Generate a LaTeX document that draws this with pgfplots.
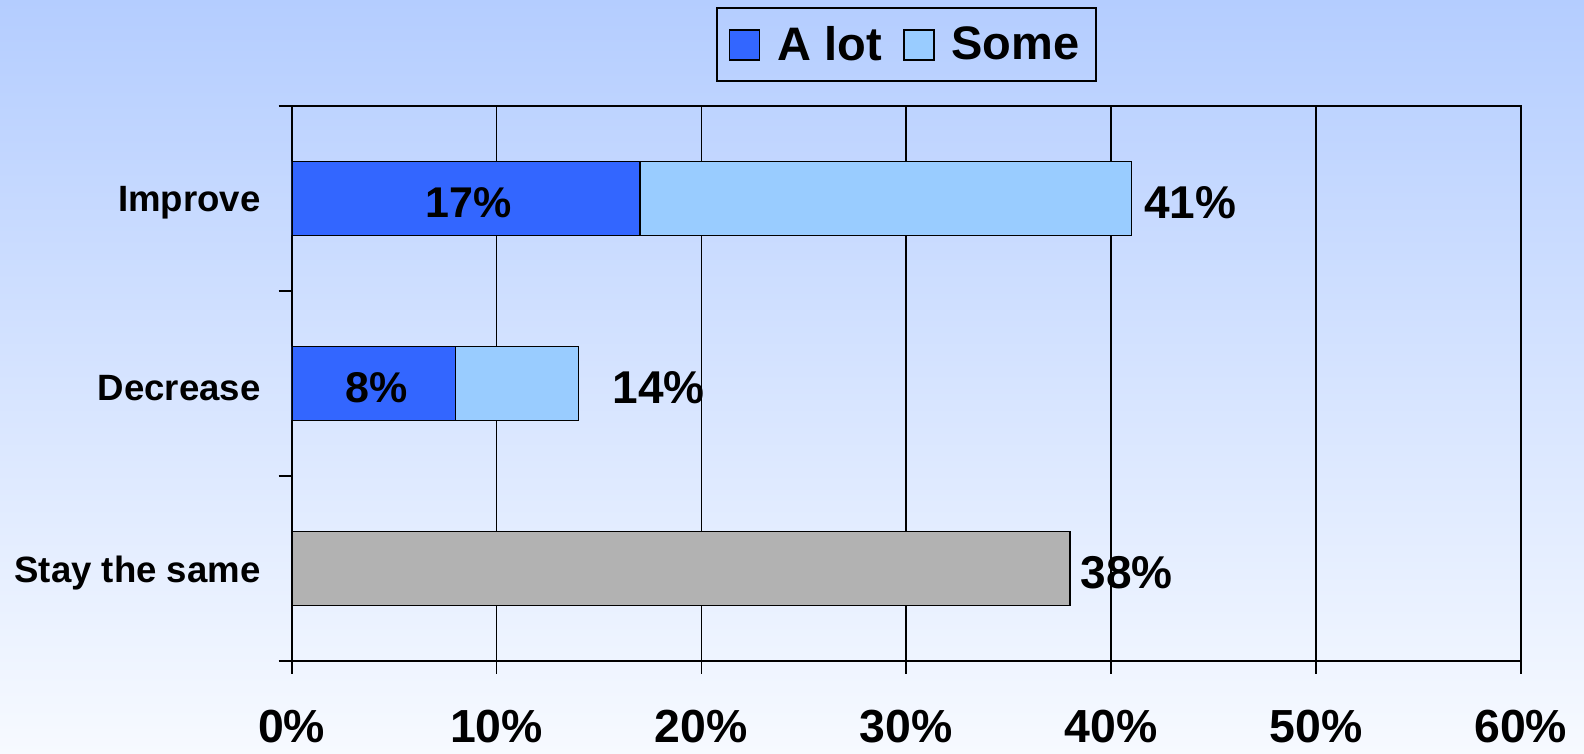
\documentclass[border=0pt]{standalone}
\usepackage{pgfplots}
\pgfplotsset{compat=1.18}
\usepackage{fontspec}
\setmainfont{Liberation Sans}
\definecolor{alot}{RGB}{51,102,255}
\definecolor{some}{RGB}{153,204,255}
\definecolor{same}{RGB}{178,178,178}
\definecolor{bgtop}{RGB}{180,205,255}
\definecolor{bgbot}{RGB}{247,250,255}
\newcommand\fs[1]{\fontsize{#1}{#1}\selectfont\bfseries}
\begin{document}
\begin{tikzpicture}
\useasboundingbox (0,0) rectangle (792pt,377pt);
\shade[top color=bgtop, bottom color=bgbot] (0,0) rectangle (792pt,377pt);
\begin{axis}[
  at={(145.85pt,46.5pt)}, anchor=south west,
  scale only axis, width=614.5pt, height=277.6pt,
  xbar stacked, bar width=0.4,
  xmin=0, xmax=60, ymin=-0.5, ymax=2.5,
  axis line style={line width=1pt},
  xtick={0,10,20,30,40,50,60},
  xticklabels={0\%,10\%,20\%,30\%,40\%,50\%,60\%},
  xtick pos=bottom, tick align=outside,
  major tick length=6.5pt,
  tick style={black, line width=0.8pt},
  xticklabel style={font=\fs{23.2}, yshift=-14.5pt},
  xmajorgrids, grid style={black, line width=0.8pt},
  ytick={-0.5,0.5,1.5,2.5}, yticklabels={},
  ytick pos=left,
  extra y ticks={0,1,2},
  extra y tick labels={Stay the same,Decrease,Improve},
  extra y tick style={major tick length=0pt, ymajorgrids=false,
     yticklabel style={font=\fs{18.3}, xshift=-12pt, yshift=-2.2pt}},
  legend columns=2,
  legend style={at={(0.5,1.11)}, anchor=center, draw=black, line width=1pt,
     fill=none, font=\fs{23.5}, inner xsep=6pt, inner ysep=7pt,
     /tikz/every odd column/.append style={column sep=6.5pt},
     /tikz/every even column/.append style={column sep=8.5pt}},
  legend image code/.code={\draw[#1, line width=0.8pt] (0pt,-7.5pt) rectangle (15pt,7.5pt);},
]
\addplot[fill=alot, draw=black, line width=0.8pt] coordinates {(17,2) (8,1) (0,0)};
\addlegendentry{A lot}
\addplot[fill=some, draw=black, line width=0.8pt] coordinates {(24,2) (6,1) (0,0)};
\addlegendentry{Some}
\addplot[fill=same, draw=black, line width=0.8pt, forget plot] coordinates {(0,2) (0,1) (38,0)};
\coordinate (l1) at (axis cs:8.5,2);
\coordinate (l2) at (axis cs:4,1);
\coordinate (l3) at (axis cs:41.6,2);
\coordinate (l4) at (axis cs:15.65,1);
\coordinate (l5) at (axis cs:38.5,0);
\end{axis}
\node[font=\fs{21.5}, yshift=-2pt, xshift=1.5pt] at (l1) {17\%};
\node[font=\fs{21.5}, yshift=-2pt, xshift=1.5pt] at (l2) {8\%};
\node[font=\fs{23}, anchor=west, inner sep=0pt, yshift=-2pt] at (l3) {41\%};
\node[font=\fs{23}, anchor=west, inner sep=0pt, yshift=-2pt] at (l4) {14\%};
\node[font=\fs{23}, anchor=west, inner sep=0pt, yshift=-2pt] at (l5) {38\%};
\end{tikzpicture}
\end{document}
